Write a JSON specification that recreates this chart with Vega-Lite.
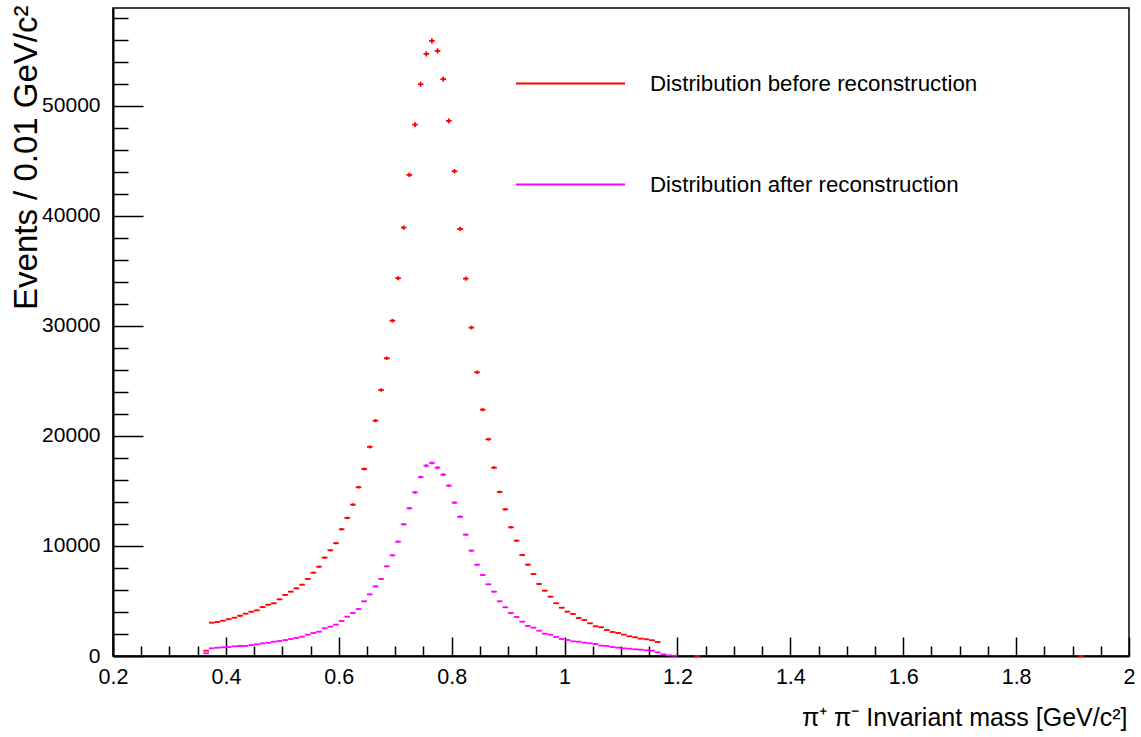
{
  "$schema": "https://vega.github.io/schema/vega-lite/v6.json",
  "width": 1016,
  "height": 648,
  "autosize": {"type": "none"},
  "padding": {"left": 113, "top": 8, "right": 12, "bottom": 81},
  "background": "white",
  "config": {
    "view": {"stroke": "black", "strokeWidth": 1.5},
    "font": "Liberation Sans"
  },
  "data": {"values": [
    {"s":"before","m":0.365,"n":480},{"s":"before","m":0.375,"n":3030},{"s":"before","m":0.385,"n":3090},{"s":"before","m":0.395,"n":3210},
    {"s":"before","m":0.405,"n":3340},{"s":"before","m":0.415,"n":3480},{"s":"before","m":0.425,"n":3660},{"s":"before","m":0.435,"n":3850},
    {"s":"before","m":0.445,"n":4030},{"s":"before","m":0.455,"n":4150},{"s":"before","m":0.465,"n":4450},{"s":"before","m":0.475,"n":4660},
    {"s":"before","m":0.485,"n":4790},{"s":"before","m":0.495,"n":5150},{"s":"before","m":0.505,"n":5550},{"s":"before","m":0.515,"n":5850},
    {"s":"before","m":0.525,"n":6150},{"s":"before","m":0.535,"n":6480},{"s":"before","m":0.545,"n":7000},{"s":"before","m":0.555,"n":7570},
    {"s":"before","m":0.565,"n":8120},{"s":"before","m":0.575,"n":8940},{"s":"before","m":0.585,"n":9610},{"s":"before","m":0.595,"n":10250},
    {"s":"before","m":0.605,"n":11520},{"s":"before","m":0.615,"n":12550},{"s":"before","m":0.625,"n":13760},{"s":"before","m":0.635,"n":15340},
    {"s":"before","m":0.645,"n":17000},{"s":"before","m":0.655,"n":19000},{"s":"before","m":0.665,"n":21390},{"s":"before","m":0.675,"n":24180},
    {"s":"before","m":0.685,"n":27060},{"s":"before","m":0.695,"n":30480},{"s":"before","m":0.705,"n":34340},{"s":"before","m":0.715,"n":38940},
    {"s":"before","m":0.725,"n":43730},{"s":"before","m":0.735,"n":48300},{"s":"before","m":0.745,"n":51970},{"s":"before","m":0.755,"n":54730},
    {"s":"before","m":0.765,"n":55910},{"s":"before","m":0.775,"n":55000},{"s":"before","m":0.785,"n":52430},{"s":"before","m":0.795,"n":48640},
    {"s":"before","m":0.805,"n":44060},{"s":"before","m":0.815,"n":38820},{"s":"before","m":0.825,"n":34300},{"s":"before","m":0.835,"n":29850},
    {"s":"before","m":0.845,"n":25790},{"s":"before","m":0.855,"n":22390},{"s":"before","m":0.865,"n":19700},{"s":"before","m":0.875,"n":17120},
    {"s":"before","m":0.885,"n":14910},{"s":"before","m":0.895,"n":13330},{"s":"before","m":0.905,"n":11700},{"s":"before","m":0.915,"n":10480},
    {"s":"before","m":0.925,"n":9180},{"s":"before","m":0.935,"n":8300},{"s":"before","m":0.945,"n":7450},{"s":"before","m":0.955,"n":6550},
    {"s":"before","m":0.965,"n":5940},{"s":"before","m":0.975,"n":5390},{"s":"before","m":0.985,"n":4790},{"s":"before","m":0.995,"n":4390},
    {"s":"before","m":1.005,"n":4030},{"s":"before","m":1.015,"n":3820},{"s":"before","m":1.025,"n":3450},{"s":"before","m":1.035,"n":3270},
    {"s":"before","m":1.045,"n":2970},{"s":"before","m":1.055,"n":2700},{"s":"before","m":1.065,"n":2610},{"s":"before","m":1.075,"n":2360},
    {"s":"before","m":1.085,"n":2180},{"s":"before","m":1.095,"n":2090},{"s":"before","m":1.105,"n":1940},{"s":"before","m":1.115,"n":1790},
    {"s":"before","m":1.125,"n":1700},{"s":"before","m":1.135,"n":1580},{"s":"before","m":1.145,"n":1520},{"s":"before","m":1.155,"n":1430},
    {"s":"before","m":1.165,"n":1270},{"s":"before","m":1.235,"n":10},{"s":"before","m":1.915,"n":10},
    {"s":"after","m":0.365,"n":250},{"s":"after","m":0.375,"n":700},{"s":"after","m":0.385,"n":755},{"s":"after","m":0.395,"n":790},
    {"s":"after","m":0.405,"n":820},{"s":"after","m":0.415,"n":880},{"s":"after","m":0.425,"n":910},{"s":"after","m":0.435,"n":910},
    {"s":"after","m":0.445,"n":1000},{"s":"after","m":0.455,"n":1060},{"s":"after","m":0.465,"n":1150},{"s":"after","m":0.475,"n":1210},
    {"s":"after","m":0.485,"n":1300},{"s":"after","m":0.495,"n":1360},{"s":"after","m":0.505,"n":1450},{"s":"after","m":0.515,"n":1545},
    {"s":"after","m":0.525,"n":1640},{"s":"after","m":0.535,"n":1755},{"s":"after","m":0.545,"n":1940},{"s":"after","m":0.555,"n":2090},
    {"s":"after","m":0.565,"n":2210},{"s":"after","m":0.575,"n":2515},{"s":"after","m":0.585,"n":2670},{"s":"after","m":0.595,"n":2850},
    {"s":"after","m":0.605,"n":3180},{"s":"after","m":0.615,"n":3575},{"s":"after","m":0.625,"n":3910},{"s":"after","m":0.635,"n":4270},
    {"s":"after","m":0.645,"n":4970},{"s":"after","m":0.655,"n":5600},{"s":"after","m":0.665,"n":6330},{"s":"after","m":0.675,"n":7000},
    {"s":"after","m":0.685,"n":8150},{"s":"after","m":0.695,"n":9150},{"s":"after","m":0.705,"n":10390},{"s":"after","m":0.715,"n":11970},
    {"s":"after","m":0.725,"n":13430},{"s":"after","m":0.735,"n":14880},{"s":"after","m":0.745,"n":16270},{"s":"after","m":0.755,"n":17300},
    {"s":"after","m":0.765,"n":17545},{"s":"after","m":0.775,"n":17120},{"s":"after","m":0.785,"n":16480},{"s":"after","m":0.795,"n":15480},
    {"s":"after","m":0.805,"n":13940},{"s":"after","m":0.815,"n":12660},{"s":"after","m":0.825,"n":11030},{"s":"after","m":0.835,"n":9575},
    {"s":"after","m":0.845,"n":8300},{"s":"after","m":0.855,"n":7360},{"s":"after","m":0.865,"n":6515},{"s":"after","m":0.875,"n":5850},
    {"s":"after","m":0.885,"n":4970},{"s":"after","m":0.895,"n":4425},{"s":"after","m":0.905,"n":3910},{"s":"after","m":0.915,"n":3545},
    {"s":"after","m":0.925,"n":3120},{"s":"after","m":0.935,"n":2730},{"s":"after","m":0.945,"n":2575},{"s":"after","m":0.955,"n":2300},
    {"s":"after","m":0.965,"n":2030},{"s":"after","m":0.975,"n":1940},{"s":"after","m":0.985,"n":1730},{"s":"after","m":0.995,"n":1545},
    {"s":"after","m":1.005,"n":1455},{"s":"after","m":1.015,"n":1335},{"s":"after","m":1.025,"n":1300},{"s":"after","m":1.035,"n":1210},
    {"s":"after","m":1.045,"n":1150},{"s":"after","m":1.055,"n":1090},{"s":"after","m":1.065,"n":940},{"s":"after","m":1.075,"n":910},
    {"s":"after","m":1.085,"n":820},{"s":"after","m":1.095,"n":755},{"s":"after","m":1.105,"n":700},{"s":"after","m":1.115,"n":665},
    {"s":"after","m":1.125,"n":610},{"s":"after","m":1.135,"n":575},{"s":"after","m":1.145,"n":520},{"s":"after","m":1.155,"n":480},
    {"s":"after","m":1.165,"n":335},{"s":"after","m":1.175,"n":150},{"s":"after","m":1.185,"n":60},{"s":"after","m":1.195,"n":30}
  ]},
  "encoding": {
    "x": {
      "field": "m", "type": "quantitative",
      "scale": {"domain": [0.2, 2.0], "nice": false, "zero": false},
      "axis": {
        "title": "π⁺ π⁻ Invariant mass [GeV/c²]",
        "titleFont": "Liberation Sans",
        "titleFontSize": 25,
        "titleFontWeight": "normal",
        "titleColor": "black",
        "titleAnchor": "end",
        "titleAlign": "right",
        "titleBaseline": "alphabetic",
        "titleX": 1014,
        "titleY": 69,
        "values": [0.2,0.25,0.3,0.35,0.4,0.45,0.5,0.55,0.6,0.65,0.7,0.75,0.8,0.85,0.9,0.95,1,1.05,1.1,1.15,1.2,1.25,1.3,1.35,1.4,1.45,1.5,1.55,1.6,1.65,1.7,1.75,1.8,1.85,1.9,1.95,2],
        "labelExpr": "abs(datum.value*5 - round(datum.value*5)) < 0.001 ? format(datum.value, '~g') : ''",
        "labelFont": "Liberation Sans",
        "labelFontSize": 21.5,
        "labelColor": "black",
        "labelFlush": false,
        "labelOverlap": false,
        "labelBaseline": "top",
        "labelPadding": 29,
        "tickSize": {"condition": {"test": "abs(datum.value*5 - round(datum.value*5)) < 0.001", "value": -19}, "value": -10},
        "tickColor": "black",
        "tickWidth": 1.5,
        "domainColor": "black",
        "domainWidth": 2,
        "grid": false
      }
    },
    "y": {
      "field": "n", "type": "quantitative",
      "scale": {"domain": [0, 58900], "nice": false, "zero": true},
      "axis": {
        "title": "Events / 0.01 GeV/c²",
        "titleFont": "Liberation Sans",
        "titleFontSize": 33,
        "titleFontWeight": "normal",
        "titleColor": "black",
        "titleAngle": -90,
        "titleAlign": "right",
        "titleBaseline": "middle",
        "titleX": -87,
        "titleY": -3,
        "values": [0,2000,4000,6000,8000,10000,12000,14000,16000,18000,20000,22000,24000,26000,28000,30000,32000,34000,36000,38000,40000,42000,44000,46000,48000,50000,52000,54000,56000,58000],
        "labelExpr": "datum.value % 10000 === 0 ? format(datum.value, 'd') : ''",
        "labelFont": "Liberation Sans",
        "labelFontSize": 21,
        "labelColor": "black",
        "labelFlush": false,
        "labelOverlap": false,
        "labelBaseline": "middle",
        "labelPadding": 43,
        "tickSize": {"condition": {"test": "datum.value % 10000 === 0", "value": -30}, "value": -15},
        "tickColor": "black",
        "tickWidth": 1.5,
        "domainColor": "black",
        "domainWidth": 2,
        "grid": false
      }
    },
    "color": {
      "field": "s", "type": "nominal",
      "scale": {"domain": ["before", "after"], "range": ["#ff0000", "#ff00ff"]},
      "legend": {
        "title": null,
        "orient": "none",
        "legendX": 402,
        "legendY": 20,
        "padding": 0,
        "symbolType": "stroke",
        "symbolSize": 11881,
        "symbolStrokeWidth": 2,
        "symbolOpacity": 1,
        "labelOffset": 24,
        "labelFont": "Liberation Sans",
        "labelFontSize": 22.3,
        "labelColor": "black",
        "labelLimit": 0,
        "rowPadding": 34,
        "labelExpr": "'Distribution ' + datum.label + ' reconstruction'",
        "encode": {"symbols": {"update": {"stroke": {"scale": "color", "field": "value"}, "strokeWidth": {"value": 2}, "fill": {"value": "transparent"}}}}
      }
    }
  },
  "layer": [
    {"mark": {"type": "tick", "orient": "horizontal", "size": 5.64, "thickness": 1.8, "opacity": 1}},
    {
      "mark": {"type": "tick", "orient": "vertical", "thickness": 1.8, "opacity": 1},
      "encoding": {
        "size": {"field": "n", "type": "quantitative", "scale": {"type": "sqrt", "domain": [0, 56000], "range": [0, 5.2]}, "legend": null}
      }
    }
  ]
}
